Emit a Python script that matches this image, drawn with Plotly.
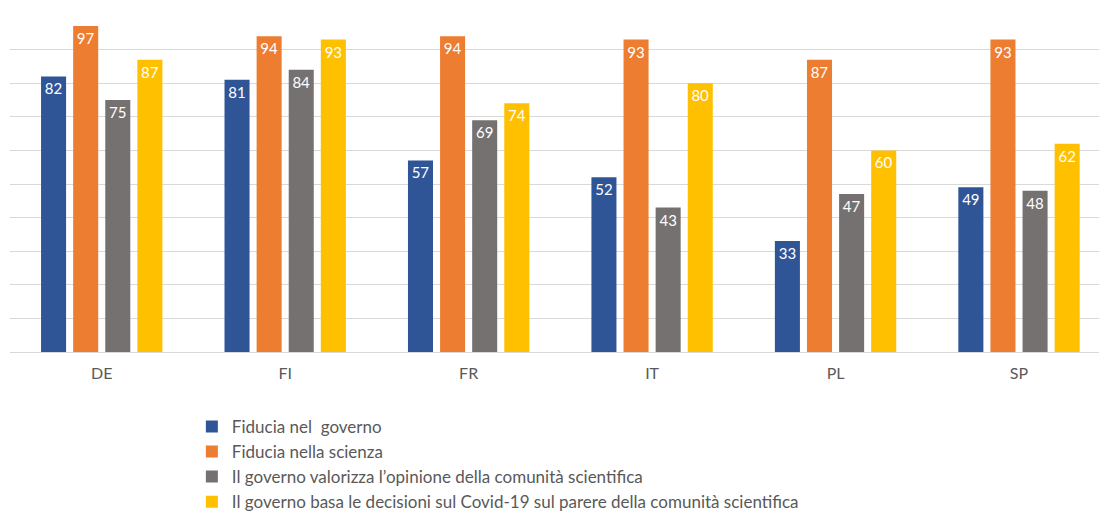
import plotly.graph_objects as go

categories = ["DE", "FI", "FR", "IT", "PL", "SP"]
fiducia_governo = [82, 81, 57, 52, 33, 49]
fiducia_scienza = [97, 94, 94, 93, 87, 93]
valorizza_opinione = [75, 84, 69, 43, 47, 48]
basa_decisioni = [87, 93, 74, 80, 60, 62]

series = [
    ("Fiducia nel\u00a0 governo", fiducia_governo, "#2F5597"),
    ("Fiducia nella scienza", fiducia_scienza, "#ED7D31"),
    ("Il governo valorizza l\u2019opinione della comunità scientifica", valorizza_opinione, "#767171"),
    ("Il governo basa le decisioni sul Covid-19 sul parere della comunità scientifica", basa_decisioni, "#FFC000"),
]

fig = go.Figure()
for i, (name, vals, color) in enumerate(series):
    fig.add_trace(go.Bar(
        x=categories, y=vals, name=name, legendgroup=f"g{i}",
        marker=dict(color=color, line=dict(width=0)),
        text=[str(v) for v in vals],
        textposition="inside", insidetextanchor="end",
        textfont=dict(color="white", size=15, family="Lato"),
        constraintext="none",
    ))

fig.update_layout(
    width=1099, height=513,
    margin=dict(l=10, r=0, t=16, b=161, autoexpand=False),
    paper_bgcolor="white", plot_bgcolor="white",
    barmode="group", bargap=0.3, bargroupgap=0.22,
    font=dict(family="Lato", color="#595959", size=15),
    xaxis=dict(range=[-0.5, 5.436], showline=False, showgrid=False,
               ticks="", tickfont=dict(size=16, color="#595959"), ticklabelstandoff=10),
    yaxis=dict(range=[0, 100], dtick=10, showticklabels=False,
               gridcolor="#D9D9D9", gridwidth=1, zeroline=True,
               zerolinecolor="#D9D9D9", zerolinewidth=1, showline=False),
    legend=dict(orientation="v", x=0.167, xanchor="left",
                yref="container", y=0.203, yanchor="top",
                font=dict(size=17, color="#595959"), itemwidth=30,
                traceorder="grouped", tracegroupgap=0, bgcolor="rgba(0,0,0,0)"),
    showlegend=True,
)

fig.write_html("out.html")
